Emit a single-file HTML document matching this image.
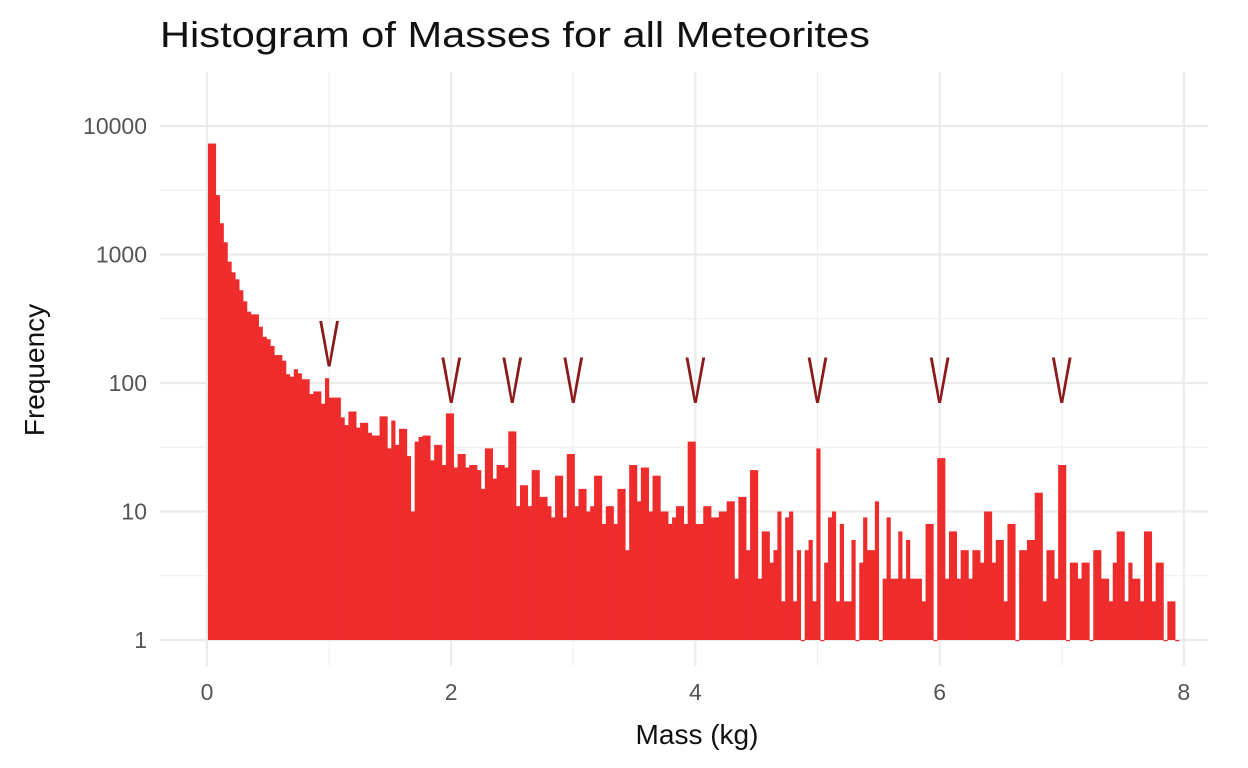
<!DOCTYPE html>
<html><head><meta charset="utf-8">
<style>
html,body{margin:0;padding:0;background:#fff;}
svg{display:block;font-family:"Liberation Sans",sans-serif;}
</style></head>
<body>
<svg id="chart" width="1248" height="768" viewBox="0 0 1248 768" xmlns="http://www.w3.org/2000/svg">
<g id="grid"></g>
<g id="bars"></g>
<g id="marks"></g>
<g id="axes"></g>
<text x="160" y="47" font-size="36" fill="#111" textLength="710" lengthAdjust="spacingAndGlyphs">Histogram of Masses for all Meteorites</text>
<text x="697" y="744" font-size="28" fill="#111" text-anchor="middle">Mass (kg)</text>
<text transform="translate(44,370) rotate(-90)" font-size="28" fill="#111" text-anchor="middle">Frequency</text>
</svg>
<script>
const counts = [
7300,7300,2900,1750,1245,880,727,641,527,432,359,342,342,274,229,219,194,165,165,149,
117,112,128,119,107,107,82,86,86,69,109,77,77,77,54,47,60,60,45,49,49,41,39,39,55,55,31,51,33,44,
44,27,10,35,38,39,39,25,33,33,23,
58,58,22,28,28,22,23,23,21,15,31,31,18,23,23,22,42,42,11,16,16,11,21,21,13,13,11,9,19,19,
9,28,28,11,15,15,10,11,19,19,8,11,11,8,15,15,5,23,23,12,22,22,10,19,19,10,10,8,9,11,11,8,
35,
35,8,8,11,11,9,9,10,10,12,12,3,13,13,5,21,21,3,7,7,4,5,10,2,9,10,2,5,1,5,
6,2,31,1,4,9,10,2,8,2,2,6,1,4,9,5,5,12,1,3,9,3,3,7,3,6,3,3,3,2,8,8,1,
26,26,3,7,7,3,5,5,3,5,5,4,10,10,4,6,6,2,8,8,1,5,5,6,6,14,14,2,5,5,
3,23,23,1,4,4,3,4,4,1,5,5,3,3,2,4,7,7,2,4,3,3,2,7,7,2,4,4,1,2,2,1];
const binStart = 0.008;
const binWidth = 0.03194;
const xTicks = [0,2,4,6,8];
const xMinor = [1,3,5,7];
const yTicks = [1,10,100,1000,10000];
const yTickLabels = ["1","10","100","1000","10000"];
const markMass = [1,2,2.5,3,4,5,6,7];
const markLevel = [135,70,70,70,70,70,70,70];

const NS="http://www.w3.org/2000/svg";
const X0=207, XS=122.1, Y0=640, YS=128.5;
const x = m => X0 + m*XS;
const y = v => Y0 - YS*Math.log10(v);
function el(tag, attrs, parent){const e=document.createElementNS(NS,tag);for(const k in attrs)e.setAttribute(k,attrs[k]);parent.appendChild(e);return e;}
const grid=document.getElementById('grid'), bars=document.getElementById('bars'), marks=document.getElementById('marks'), axes=document.getElementById('axes');

// minor y grid (log midpoints)
for(let i=0;i<yTicks.length-1;i++){
  const v=Math.sqrt(yTicks[i]*yTicks[i+1]);
  const l=el('line',{x1:160,x2:1208,y1:y(v),y2:y(v),stroke:'#f0f0f0','stroke-width':1.2},grid);
  
  
}
xMinor.forEach(m=>{
  const l=el('line',{x1:x(m),x2:x(m),y1:72,y2:666,stroke:'#f0f0f0','stroke-width':1.2},grid);
  
  
});
yTicks.forEach((v,i)=>{
  const l=el('line',{x1:160,x2:1208,y1:y(v),y2:y(v),stroke:'#ebebeb','stroke-width':2.2},grid);
  
  
  const t=el('text',{x:147,y:y(v)+8,'font-size':23,fill:'#555','text-anchor':'end'},axes);
  t.textContent=yTickLabels[i];
  
  
});
xTicks.forEach(m=>{
  const l=el('line',{x1:x(m),x2:x(m),y1:72,y2:666,stroke:'#ebebeb','stroke-width':2.2},grid);
  
  
  const t=el('text',{x:x(m),y:700,'font-size':23,fill:'#555','text-anchor':'middle'},axes);
  t.textContent=String(m);
  
  
});
counts.forEach((c,k)=>{
  const xa=x(binStart+k*binWidth), xb=x(binStart+(k+1)*binWidth);
  const top=y(c);
  const r=el('rect',{x:xa,y:top,width:xb-xa+0.3,height:Math.max(Y0-top,1.2),fill:'#ee2c2c'},bars);
  
  
});
markMass.forEach((m,i)=>{
  const t=el('text',{x:x(m)-10,y:y(markLevel[i]),'font-size':66,fill:'#8b1a1a',textLength:20,lengthAdjust:'spacingAndGlyphs'},marks);
  t.textContent='V';
  
  
});
</script>
</body></html>
